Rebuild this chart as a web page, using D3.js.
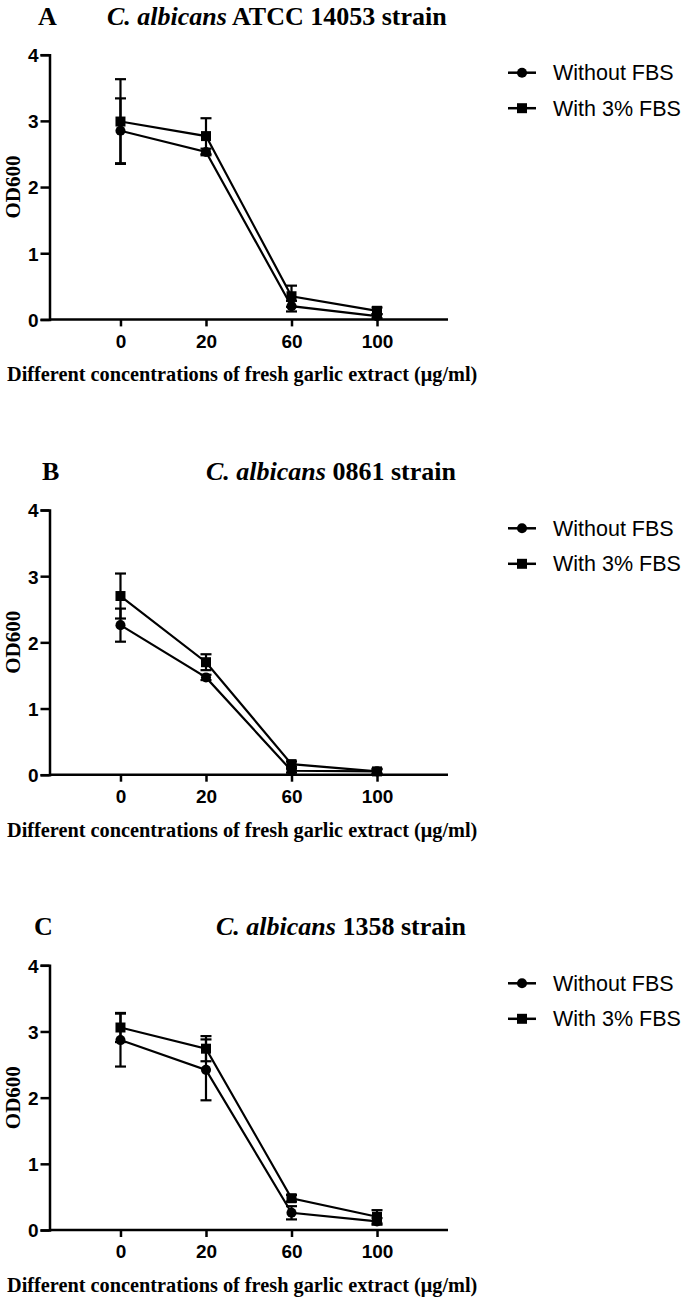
<!DOCTYPE html>
<html lang="en">
<head>
<meta charset="UTF-8" />
<title>Fresh garlic extract OD600</title>
<script src="https://cdn.jsdelivr.net/npm/d3@7"></script>
<style>
  body { margin: 0; background: #fff; }
</style>
</head>
<body>
<div class="chart"></div>
<script>
  // categories (µg/ml) and y ticks
  var concentrations = ['0', '20', '60', '100']
  var yTicks = [0, 1, 2, 3, 4]
  var seriesNames = ['Without FBS', 'With 3% FBS']

  // A: ATCC 14053
  var withoutA = [2.85, 2.53, 0.20, 0.05]
  var withoutAsd = [0.49, 0.05, 0.08, 0.03]
  var withA = [2.99, 2.77, 0.35, 0.13]
  var withAsd = [0.64, 0.27, 0.16, 0.05]

  // B: 0861
  var withoutB = [2.26, 1.47, 0.06, 0.05]
  var withoutBsd = [0.25, 0.04, 0.03, 0.03]
  var withB = [2.70, 1.70, 0.16, 0.05]
  var withBsd = [0.34, 0.12, 0.04, 0.04]

  // C: 1358
  var withoutC = [2.87, 2.42, 0.26, 0.13]
  var withoutCsd = [0.40, 0.46, 0.10, 0.05]
  var withC = [3.06, 2.74, 0.48, 0.20]
  var withCsd = [0.22, 0.19, 0.05, 0.10]

  var panels = [
    { letter: 'A', strain: 'ATCC 14053 strain', letterX: 38, titleX: 107, series: [[withoutA, withoutAsd], [withA, withAsd]] },
    { letter: 'B', strain: '0861 strain', letterX: 42, titleX: 206, series: [[withoutB, withoutBsd], [withB, withBsd]] },
    { letter: 'C', strain: '1358 strain', letterX: 34, titleX: 216, series: [[withoutC, withoutCsd], [withC, withCsd]] }
  ]

  var W = 685, H = 1299
  var left = 49.5, right = 448, plotH = 264.7
  var serif = '"Liberation Serif", "Times New Roman", serif'
  var sans = '"Liberation Sans", Arial, sans-serif'

  var svg = d3.select('.chart').append('svg').attr('width', W).attr('height', H)

  var x = d3.scalePoint().domain(concentrations).range([left, right]).padding(0.83)
  var y = d3.scaleLinear().domain([0, 4]).range([plotH, 0])

  panels.forEach(function (p, pi) {
    var top = 54.7 + pi * 455.3
    var g = svg.append('g').attr('transform', 'translate(0,' + top + ')')

    // titles
    g.append('text').attr('x', p.letterX).attr('y', -30)
      .style('font-family', serif).style('font-weight', 'bold').style('font-size', '26px')
      .text(p.letter)
    var t = g.append('text').attr('x', p.titleX).attr('y', -30)
      .style('font-family', serif).style('font-weight', 'bold').style('font-size', '26px')
    t.append('tspan').style('font-style', 'italic').text('C. albicans')
    t.append('tspan').text(' ' + p.strain)

    // axes
    var ya = g.append('g').attr('transform', 'translate(' + left + ',0)')
      .call(d3.axisLeft(y).tickValues(yTicks).tickSize(9).tickPadding(2).tickFormat(d3.format('d')))
    var xa = g.append('g').attr('transform', 'translate(0,' + plotH + ')')
      .call(d3.axisBottom(x).tickSize(7).tickPadding(8).tickSizeOuter(0))
    xa.select('.domain').attr('d', 'M' + left + ',0H' + right)
    ;[ya, xa].forEach(function (a) {
      a.selectAll('path, line').attr('stroke', '#000').attr('stroke-width', 2.5)
      a.selectAll('text').attr('fill', '#000')
        .style('font-family', sans).style('font-weight', 'bold').style('font-size', '19px')
    })
    ya.selectAll('text').attr('dy', '0.36em')

    // axis labels
    g.append('text').attr('x', 7).attr('y', plotH + 62)
      .style('font-family', serif).style('font-weight', 'bold').style('font-size', '20.3px')
      .text('Different concentrations of fresh garlic extract (μg/ml)')
    g.append('text').attr('transform', 'translate(20,' + plotH / 2 + ') rotate(-90)')
      .attr('text-anchor', 'middle')
      .style('font-family', serif).style('font-weight', 'bold').style('font-size', '21px')
      .text('OD600')

    // series
    p.series.forEach(function (s, si) {
      var vals = s[0], sds = s[1]
      var pts = concentrations.map(function (c, i) { return { c: c, v: vals[i], sd: sds[i] } })

      var eb = g.append('g').attr('stroke', '#000').attr('stroke-width', 2.2)
      pts.forEach(function (d) {
        var cx = x(d.c)
        eb.append('line').attr('x1', cx).attr('x2', cx).attr('y1', y(d.v - d.sd)).attr('y2', y(d.v + d.sd))
        eb.append('line').attr('x1', cx - 5.5).attr('x2', cx + 5.5).attr('y1', y(d.v + d.sd)).attr('y2', y(d.v + d.sd))
        eb.append('line').attr('x1', cx - 5.5).attr('x2', cx + 5.5).attr('y1', y(d.v - d.sd)).attr('y2', y(d.v - d.sd))
      })

      g.append('path').datum(pts)
        .attr('fill', 'none').attr('stroke', '#000').attr('stroke-width', 2.2)
        .attr('d', d3.line().x(function (d) { return x(d.c) }).y(function (d) { return y(d.v) }))

      var sym = d3.symbol().type(si === 0 ? d3.symbolCircle : d3.symbolSquare).size(si === 0 ? 80 : 100)
      g.selectAll(null).data(pts).enter().append('path')
        .attr('transform', function (d) { return 'translate(' + x(d.c) + ',' + y(d.v) + ')' })
        .attr('d', sym).attr('fill', '#000')
    })

    // legend
    var lg = g.append('g').attr('transform', 'translate(508,' + (18 + (pi === 1 ? 0.3 : 0)) + ')')
    seriesNames.forEach(function (name, si) {
      var row = lg.append('g').attr('transform', 'translate(0,' + si * 35.5 + ')')
      row.append('line').attr('x1', 0).attr('x2', 28).attr('stroke', '#000').attr('stroke-width', 2.5)
      row.append('path').attr('transform', 'translate(14,0)')
        .attr('d', d3.symbol().type(si === 0 ? d3.symbolCircle : d3.symbolSquare).size(si === 0 ? 80 : 100))
      row.append('text').attr('x', 45).attr('dy', '0.35em')
        .style('font-family', sans).style('font-size', '21.5px').text(name)
    })
  })
</script>
</body>
</html>
